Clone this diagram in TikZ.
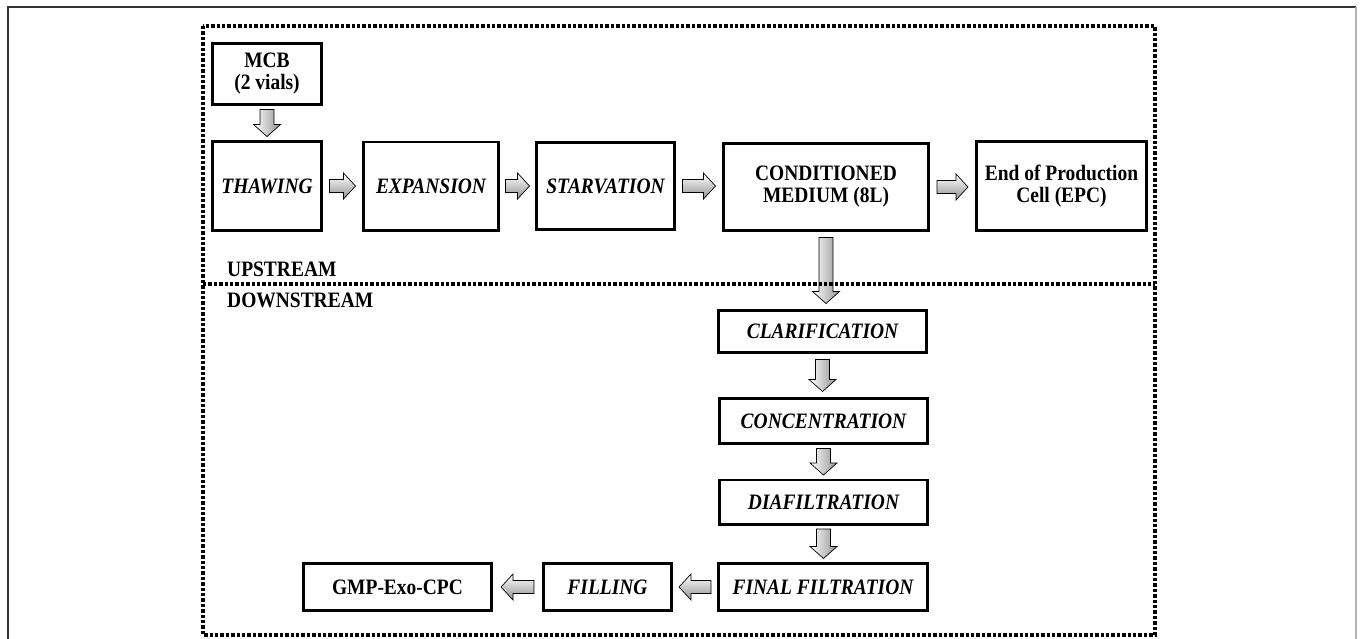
\documentclass[tikz,border=0pt]{standalone}
\usepackage{fontspec}
\setmainfont{Liberation Serif}[FakeStretch=0.885]
\usetikzlibrary{calc}
\tikzset{
  box/.style={draw, line width=2.8pt, inner sep=2pt, align=center,
    font=\fontsize{22}{22}\selectfont\bfseries},
  ibox/.style={box, font=\fontsize{22}{22}\selectfont\bfseries\itshape},
  sz/.style 2 args={minimum width=#1pt-2.8pt, minimum height=#2pt-2.8pt},
  lbl/.style={anchor=base west, inner sep=0pt, font=\fontsize{22}{22}\selectfont\bfseries},
  dotline/.style={line width=3.6pt, dash pattern=on 3.4pt off 2pt},
  harr/.style={draw=black, line width=0.7pt, top color=white, bottom color=gray!85,
    to path={let \p1=(\tikztostart), \p2=(\tikztotarget), \n1={sign(\x2-\x1)} in
      ({\x1+(\n1)*(#1)}, {\y1+6.5pt})
      -- ({\x2-(\n1)*(#1)-(\n1)*12pt}, {\y1+6.5pt})
      -- ({\x2-(\n1)*(#1)-(\n1)*12pt}, {\y1+13pt})
      -- ({\x2-(\n1)*(#1)}, \y1)
      -- ({\x2-(\n1)*(#1)-(\n1)*12pt}, {\y1-13pt})
      -- ({\x2-(\n1)*(#1)-(\n1)*12pt}, {\y1-6.5pt})
      -- ({\x1+(\n1)*(#1)}, {\y1-6.5pt}) -- cycle}},
  harr/.default=6pt,
  varr/.style={draw=black, line width=0.7pt, left color=white, right color=gray!85,
    to path={let \p1=(\tikztostart), \p2=(\tikztotarget), \n1={sign(\y2-\y1)} in
      ({\x1-7pt}, {\y1+(\n1)*(#1)})
      -- ({\x1-7pt}, {\y2-(\n1)*(#1)-(\n1)*12pt})
      -- ({\x1-13.5pt}, {\y2-(\n1)*(#1)-(\n1)*12pt})
      -- (\x1, {\y2-(\n1)*(#1)})
      -- ({\x1+13.5pt}, {\y2-(\n1)*(#1)-(\n1)*12pt})
      -- ({\x1+7pt}, {\y2-(\n1)*(#1)-(\n1)*12pt})
      -- ({\x1+7pt}, {\y1+(\n1)*(#1)}) -- cycle}},
  varr/.default=6pt
}
\begin{document}
\begin{tikzpicture}[x=1pt,y=-1pt]
\useasboundingbox (0,0) rectangle (1360,638);
% outer frame
\draw[gray!40!black, line width=1.2pt] (8,645) -- (8,7) -- (1356,7);
\draw[gray!60, line width=2pt] (1356,7) -- (1356,645);

% upstream nodes
\node[box, sz={112}{64}] (mcb) at (267,74) {MCB\\(2 vials)};
\node[ibox, sz={112}{92}] (thaw) at (267,186) {THAWING};
\node[ibox, sz={138}{91}] (exp) at (431,186) {EXPANSION};
\node[ibox, sz={141}{90}] (starv) at (605.5,186) {STARVATION};
\node[box, sz={208}{90}] (cm) at (826,187) {CONDITIONED\\MEDIUM (8L)};
\node[box, sz={173}{92}] (epc) at (1061.5,186) {End of Production\\Cell (EPC)};

% downstream nodes
\node[ibox, sz={211}{45}] (clar) at (822.5,331.5) {CLARIFICATION};
\node[ibox, sz={211}{48}] (conc) at (823.5,421) {CONCENTRATION};
\node[ibox, sz={211}{47}] (dia) at (823.5,502) {DIAFILTRATION};
\node[ibox, sz={212}{50}] (final) at (823,587) {FINAL FILTRATION};
\node[ibox, sz={131}{50}] (fill) at (607.5,587) {FILLING};
\node[box, sz={191}{50}] (gmp) at (397.5,587) {GMP-Exo-CPC};

% labels
\node[lbl] (up) at (227,276) {UPSTREAM};
\node[lbl] (down) at (227,307) {DOWNSTREAM};

% arrows
\path[varr=3.5pt] (mcb.south) to (thaw.north);
\path[harr=6.5pt] (thaw.east) to (exp.west);
\path[harr=5.5pt] (exp.east) to (starv.west);
\path[harr=6.5pt] (starv.east) to (cm.west);
\path[harr=7pt] (cm.east) to (epc.west);
\path[varr=5.5pt] (cm.south) to (clar.north);
\path[varr=5.5pt] (clar.south) to (conc.north);
\path[varr=3.5pt] (conc.south) to (dia.north);
\path[varr=3.5pt] (dia.south) to (final.north);
\path[harr=6pt] (final.west) to (fill.east);
\path[harr=8pt] (fill.west) to (gmp.east);

% dotted frames
\draw[dotline] (203,26) rectangle (1155,635);
\draw[dotline] (203,284) -- (1155,284);
\end{tikzpicture}
\end{document}
